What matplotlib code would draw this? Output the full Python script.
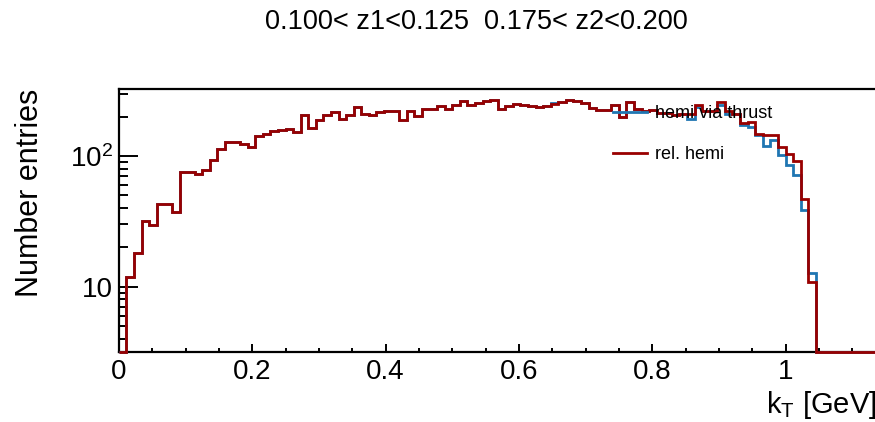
import numpy as np
import matplotlib
matplotlib.use("Agg")
import matplotlib.pyplot as plt
from matplotlib.ticker import FixedLocator, FixedFormatter, NullFormatter

plt.rcParams['font.family'] = ['Liberation Sans', 'DejaVu Sans']
plt.rcParams['mathtext.fontset'] = 'custom'
plt.rcParams['mathtext.rm'] = 'Liberation Sans'
plt.rcParams['mathtext.it'] = 'Liberation Sans'

# ---------------- data ----------------
title = "0.100< z1<0.125  0.175< z2<0.200"
x_label = "k$\\mathregular{_{T}}$ [GeV]"
y_label = "Number entries"
series_names = ["hemi via thrust", "rel. hemi"]

n_bins = 100
x_max = 1.13636

rel_hemi = [
    1, 11.8, 18.0, 32.0, 29.6, 43, 43, 37, 75, 75,
    73.5, 78, 93, 113, 127, 127, 123, 118, 142, 148.5,
    154.6, 159, 162, 154, 205, 164, 188, 207, 217, 191,
    207, 237, 211, 207, 216, 222, 221, 190, 220, 202,
    230, 230, 241, 228, 244, 263, 248, 254, 262, 270,
    228, 241, 252, 246, 240, 237, 240, 252, 260, 270,
    262, 255, 232, 227, 226, 244, 198, 260, 228, 220,
    225, 215, 212, 207, 208, 210, 244, 221, 221, 259,
    221, 211, 180, 182, 147, 146, 146, 117, 103, 91,
    46.6, 10.9, 0, 0, 0, 0, 0, 0, 0, 0,
]

hemi_via_thrust = [
    1, 11.8, 18.0, 32.0, 29.6, 43, 43, 37, 75, 75,
    73.5, 78, 93, 113, 127, 127, 123, 118, 142, 148.5,
    154.6, 159, 162, 154, 205, 164, 188, 207, 217, 191,
    207, 237, 211, 207, 216, 222, 221, 190, 220, 202,
    230, 230, 241, 228, 244, 263, 248, 254, 262, 270,
    228, 241, 252, 246, 240, 237, 240, 255, 260, 270,
    262, 255, 232, 227, 226, 244, 198, 260, 228, 220,
    225, 215, 212, 207, 208, 193, 236, 221, 221, 244,
    211, 208, 172, 167, 144, 119, 132, 101, 86, 72,
    38.6, 12.8, 0, 0, 0, 0, 0, 0, 0, 0,
]

x_ticks = [0, 0.2, 0.4, 0.6, 0.8, 1.0]
x_tick_labels = ["0", "0.2", "0.4", "0.6", "0.8", "1"]
y_ticks = [10, 100]
y_tick_labels = ["10", "$\\mathregular{10^{2}}$"]
y_min, y_max = 3.18, 326

colors = ["#1f76b2", "#990000"]

# ---------------- figure ----------------
W, H = 875, 422
fig = plt.figure(figsize=(W / 100, H / 100), dpi=100)
ax_left, ax_right = 118.9, 876.4
ax_top, ax_bot = 89.0, 351.7
ax = fig.add_axes([ax_left / W, 1 - ax_bot / H, (ax_right - ax_left) / W, (ax_bot - ax_top) / H])

edges = np.linspace(0, x_max, n_bins + 1)
handles = []
for vals, col, name in zip([hemi_via_thrust, rel_hemi], colors, series_names):
    v = np.maximum(np.asarray(vals, dtype=float), y_min)
    ax.stairs(v, edges, baseline=None, color=col, linewidth=2.0, zorder=3, clip_on=False)
    h, = ax.plot([], [], color=col, linewidth=2.0)
    handles.append(h)

ax.set_yscale('log')
ax.set_xlim(0, x_max)
ax.set_ylim(y_min, y_max)

# ticks
ax.xaxis.set_major_locator(FixedLocator(x_ticks))
ax.xaxis.set_major_formatter(FixedFormatter(x_tick_labels))
ax.xaxis.set_minor_locator(FixedLocator(np.arange(0, x_max, 0.05)))
ax.yaxis.set_major_locator(FixedLocator(y_ticks))
ax.yaxis.set_major_formatter(FixedFormatter(y_tick_labels))
minor_y = [m * d for d in [1, 10, 100] for m in range(2, 10)]
ax.yaxis.set_minor_locator(FixedLocator(minor_y))
ax.yaxis.set_minor_formatter(NullFormatter())

ax.tick_params(axis='x', which='major', direction='in', length=6.1, width=1.4, labelsize=20, pad=5)
ax.tick_params(axis='x', which='minor', direction='in', length=3.2, width=1.4)
ax.tick_params(axis='y', which='major', direction='in', length=13.7, width=1.4, labelsize=20, pad=4)
ax.tick_params(axis='y', which='minor', direction='in', length=6.7, width=1.4)
for s in ax.spines.values():
    s.set_linewidth(1.6)

# labels
fig.text(ax_right / W, 1 - 405 / H, x_label, ha='right', va='center', fontsize=21)
fig.text(30 / W, 1 - ax_top / H, y_label, rotation=90, ha='center', va='top', fontsize=22)
fig.text(476.5 / W, 1 - 22 / H, title, ha='center', va='center', fontsize=19.5)

leg = fig.legend(handles, series_names, loc='upper left',
                 bbox_to_anchor=(613 / W, 1 - 105 / H), frameon=False,
                 fontsize=13, handlelength=1.9, handletextpad=0.4,
                 labelspacing=1.33, borderpad=0, borderaxespad=0)

fig.savefig("out.png", dpi=100)
